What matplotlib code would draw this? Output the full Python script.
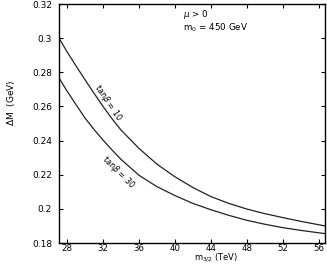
import matplotlib
matplotlib.use("Agg")
import matplotlib.pyplot as plt

m32 = [27.1, 28, 29, 30, 31, 32, 33, 34, 36, 38, 40, 42, 44, 46, 48, 50, 52, 54, 56.7]
dm_tb10 = [0.3000, 0.2920, 0.2837, 0.2756, 0.2677, 0.2600, 0.2528, 0.2462, 0.2354, 0.2262,
           0.2188, 0.2125, 0.2072, 0.2032, 0.1999, 0.1972, 0.1949, 0.1927, 0.1900]
dm_tb30 = [0.2767, 0.2690, 0.2610, 0.2532, 0.2465, 0.2403, 0.2345, 0.2290, 0.2197, 0.2130,
           0.2078, 0.2032, 0.1995, 0.1962, 0.1933, 0.1910, 0.1890, 0.1874, 0.1855]
xticks = [28, 32, 36, 40, 44, 48, 52, 56]
yticks = [0.18, 0.2, 0.22, 0.24, 0.26, 0.28, 0.3, 0.32]
ytick_labels = ["0.18", "0.2", "0.22", "0.24", "0.26", "0.28", "0.3", "0.32"]

fig = plt.figure(figsize=(3.27, 2.64), dpi=100)
ax = fig.add_axes([0.1804, 0.0795, 0.8135, 0.9053])
ax.plot(m32, dm_tb10, color="#222222", lw=0.9)
ax.plot(m32, dm_tb30, color="#222222", lw=0.9)
ax.set_xlim(27.1, 56.7)
ax.set_ylim(0.18, 0.32)
ax.set_xticks(xticks)
ax.set_yticks(yticks)
ax.set_yticklabels(ytick_labels)
ax.tick_params(direction="in", top=True, right=True, labelsize=6.5, length=3, width=0.8)
ax.tick_params(axis="x", pad=0.5, labelsize=6.2)
ax.tick_params(axis="y", pad=5)
for s in ax.spines.values():
    s.set_linewidth(1.0)

ax.text(0.466, 0.955, r"$\mu$ > 0", transform=ax.transAxes, fontsize=6.3, va="center", ha="left")
ax.text(0.466, 0.9, r"m$_0$ = 450 GeV", transform=ax.transAxes, fontsize=6.3, va="center", ha="left")
ax.text(32.6, 0.2625, r"tan$\beta$ = 10", rotation=-56, fontsize=5.8, ha="center", va="center")
ax.text(33.7, 0.2215, r"tan$\beta$ = 30", rotation=-45, fontsize=5.8, ha="center", va="center")

fig.text(0.033, 0.61, r"$\Delta$M  (GeV)", rotation=90, fontsize=6.5, ha="center", va="center")
fig.text(0.66, 0.024, r"m$_{3/2}$ (TeV)", fontsize=6.0, ha="center", va="center")

fig.savefig("out.png", dpi=100)
